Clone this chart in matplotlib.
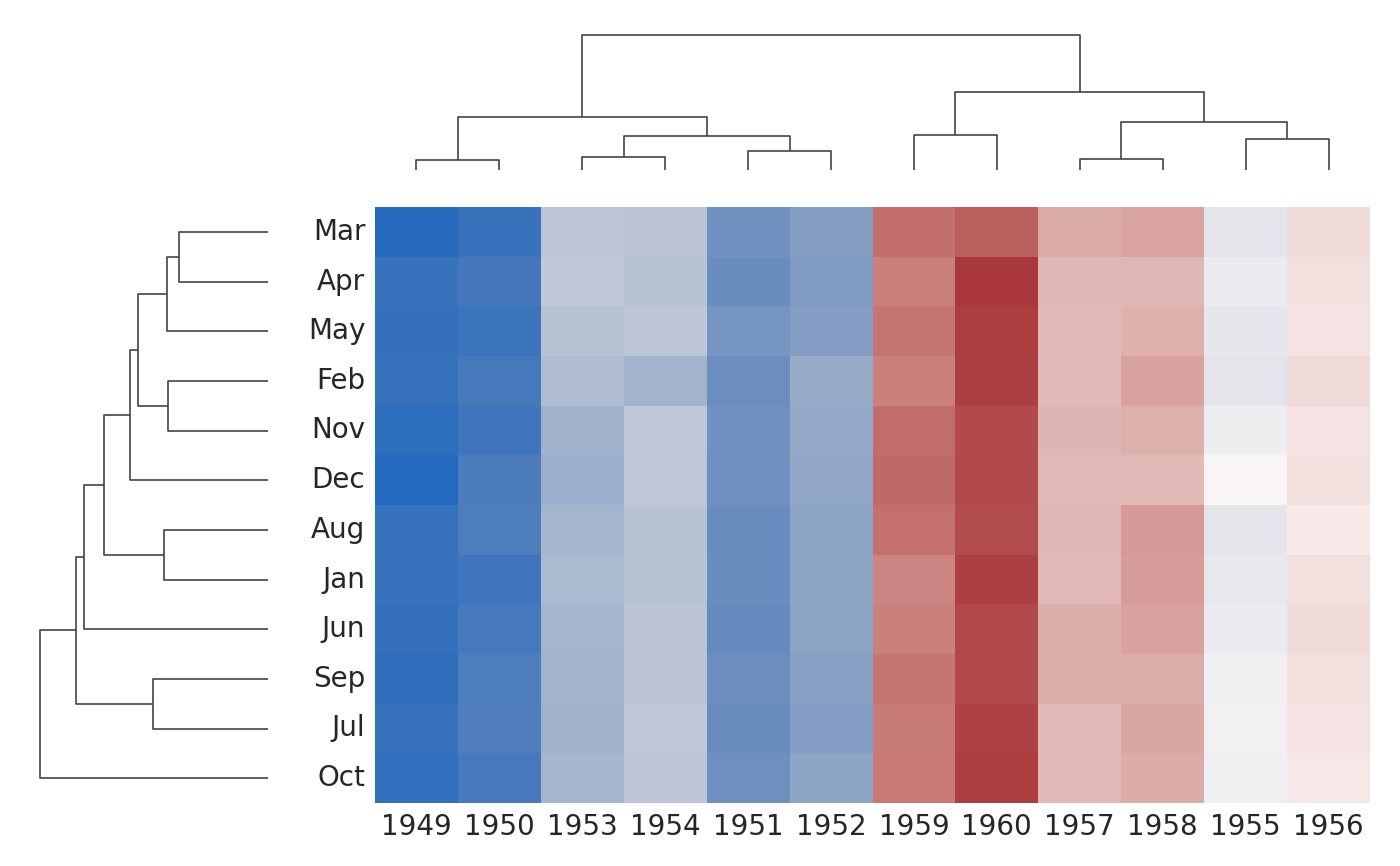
import numpy as np
import pandas as pd
import matplotlib
matplotlib.use("Agg")
import matplotlib.pyplot as plt
import seaborn as sns

months = ["Jan", "Feb", "Mar", "Apr", "May", "Jun", "Jul", "Aug", "Sep", "Oct", "Nov", "Dec"]
years = list(range(1949, 1961))
p1949 = [112, 118, 132, 129, 121, 135, 148, 148, 136, 119, 104, 118]
p1950 = [115, 126, 141, 135, 125, 149, 170, 170, 158, 133, 114, 140]
p1951 = [145, 150, 178, 163, 172, 178, 199, 199, 184, 162, 146, 166]
p1952 = [171, 180, 193, 181, 183, 218, 230, 242, 209, 191, 172, 194]
p1953 = [196, 196, 236, 235, 229, 243, 264, 272, 237, 211, 180, 201]
p1954 = [204, 188, 235, 227, 234, 264, 302, 293, 259, 229, 203, 229]
p1955 = [242, 233, 267, 269, 270, 315, 364, 347, 312, 274, 237, 278]
p1956 = [284, 277, 317, 313, 318, 374, 413, 405, 355, 306, 271, 306]
p1957 = [315, 301, 356, 348, 355, 422, 465, 467, 404, 347, 305, 336]
p1958 = [340, 318, 362, 348, 363, 435, 491, 505, 404, 359, 310, 337]
p1959 = [360, 342, 406, 396, 420, 472, 548, 559, 463, 407, 362, 405]
p1960 = [417, 391, 419, 461, 472, 535, 622, 606, 508, 461, 390, 432]

cols = [p1949, p1950, p1951, p1952, p1953, p1954, p1955, p1956, p1957, p1958, p1959, p1960]
df = pd.DataFrame(np.array(cols).T, index=months, columns=years)

g = sns.clustermap(df, z_score=0, cmap="vlag", figsize=(14, 8.66),
                   cbar_pos=None, tree_kws=dict(linewidths=1.2, colors="#444444"))
W, H = 1400, 866
def pos(ax, x0, y0, x1, y1):
    ax.set_position([x0 / W, 1 - y1 / H, (x1 - x0) / W, (y1 - y0) / H])

pos(g.ax_heatmap, 375, 207, 1370, 803)
pos(g.ax_col_dendrogram, 375, 28.25, 1370, 170)
pos(g.ax_row_dendrogram, 28.6, 207, 268, 803)
g.ax_row_dendrogram.invert_yaxis()

ax = g.ax_heatmap
ax.set_xlabel("")
ax.set_ylabel("")
ax.yaxis.set_ticks_position("left")
ax.yaxis.set_label_position("left")
ax.tick_params(axis="both", length=0, labelsize=20, colors="#262626", pad=7)
plt.setp(ax.get_yticklabels(), rotation=0)
plt.setp(ax.get_xticklabels(), rotation=0)

g.figure.savefig("out.png", dpi=100)
